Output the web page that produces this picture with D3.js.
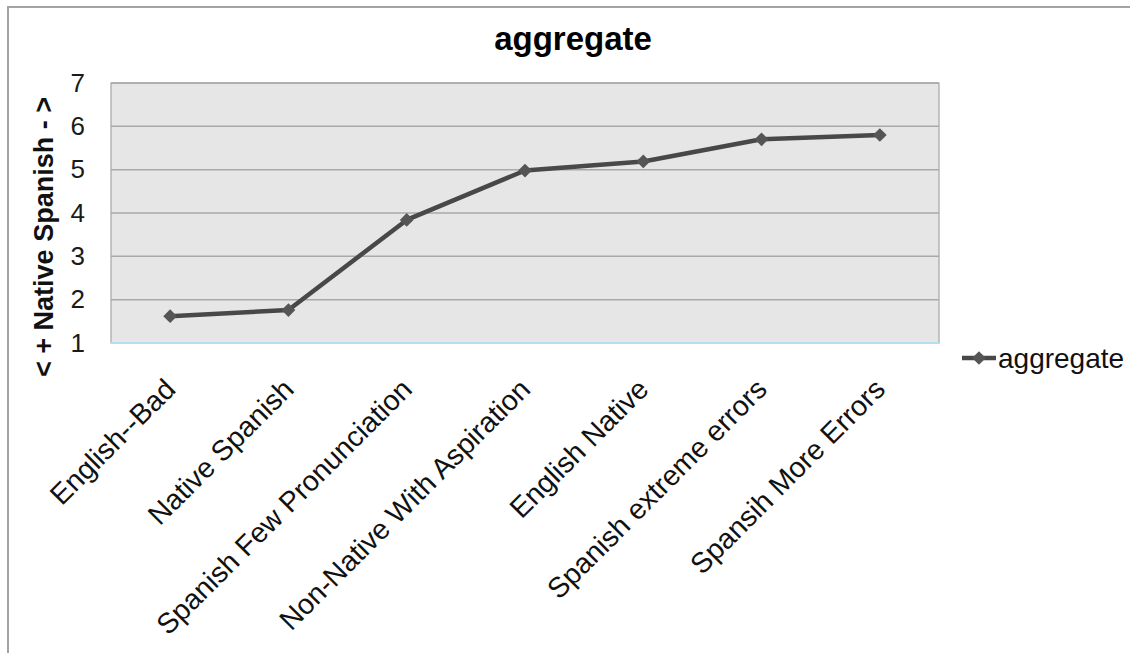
<!DOCTYPE html>
<html>
<head>
<meta charset="utf-8">
<script src="https://cdn.jsdelivr.net/npm/d3@7"></script>
<style>
  html, body { margin: 0; padding: 0; background: #ffffff; }
  svg { display: block; font-family: "Liberation Sans", Arial, sans-serif; }
</style>
</head>
<body>
<svg id="chart" width="1130" height="653"></svg>
<script>
// Aggregate rating per speech sample
const categories = [
  "English--Bad",
  "Native Spanish",
  "Spanish Few Pronunciation",
  "Non-Native With Aspiration",
  "English Native",
  "Spanish extreme errors",
  "Spansih More Errors"
];
const aggregate = [1.62, 1.76, 3.84, 4.98, 5.19, 5.70, 5.80];
const yTicks = [1, 2, 3, 4, 5, 6, 7];
const seriesName = "aggregate";
const chartTitle = "aggregate";
const yTitle = "< + Native Spanish - >";

const svg = d3.select("#chart");
const W = 1130, H = 653;
const plot = { left: 111, right: 939, top: 83, bottom: 343 };

// outer frame (left and top edges visible)
svg.append("path")
  .attr("d", `M8,${H} L8,7 L${W},7`)
  .attr("fill", "none")
  .attr("stroke", "#a3a3a3")
  .attr("stroke-width", 2);

const x = d3.scaleBand().domain(categories).range([plot.left, plot.right]);
const y = d3.scaleLinear().domain([1, 7]).range([plot.bottom, plot.top]);
const cx = d => x(d) + x.bandwidth() / 2;

// plot background
svg.append("rect")
  .attr("x", plot.left).attr("y", plot.top)
  .attr("width", plot.right - plot.left)
  .attr("height", plot.bottom - plot.top)
  .attr("fill", "#e6e6e6")
  .attr("stroke", "#a6a6a6")
  .attr("stroke-width", 1.2);

// horizontal gridlines
svg.append("g")
  .selectAll("line")
  .data(yTicks.filter(t => t > 1))
  .join("line")
  .attr("x1", plot.left).attr("x2", plot.right)
  .attr("y1", d => y(d)).attr("y2", d => y(d))
  .attr("stroke", "#a9a9a9")
  .attr("stroke-width", 1.5);

// category axis baseline
svg.append("line")
  .attr("x1", plot.left).attr("x2", plot.right)
  .attr("y1", plot.bottom).attr("y2", plot.bottom)
  .attr("stroke", "#b3dff0")
  .attr("stroke-width", 2);

// value axis labels
const yAxis = d3.axisLeft(y).tickValues(yTicks).tickSize(0).tickPadding(0)
  .tickFormat(d3.format("d"));
const yg = svg.append("g")
  .attr("transform", `translate(${plot.left - 26},0)`)
  .call(yAxis);
yg.select(".domain").remove();
yg.selectAll("text")
  .attr("font-family", "Liberation Sans, Arial, sans-serif")
  .attr("font-size", 26)
  .attr("fill", "#1a1a1a");

// category labels, rotated
const xAxis = d3.axisBottom(x).tickSize(0).tickPadding(0);
const xg = svg.append("g")
  .attr("transform", `translate(0,${plot.bottom})`)
  .call(xAxis);
xg.select(".domain").remove();
xg.selectAll(".tick text")
  .attr("font-family", "Liberation Sans, Arial, sans-serif")
  .attr("font-size", 28.5)
  .attr("fill", "#111")
  .attr("text-anchor", "end")
  .attr("dy", 0)
  .attr("y", 0)
  .attr("transform", "translate(7,48) rotate(-45)");

// series line
const line = d3.line()
  .x((d, i) => cx(categories[i]))
  .y(d => y(d));
svg.append("path")
  .datum(aggregate)
  .attr("d", line)
  .attr("fill", "none")
  .attr("stroke", "#484848")
  .attr("stroke-width", 4.5)
  .attr("stroke-linejoin", "round");

// diamond markers
const diamond = d3.symbol().type(d3.symbolDiamond2).size(120);
svg.append("g")
  .selectAll("path")
  .data(aggregate)
  .join("path")
  .attr("d", diamond)
  .attr("transform", (d, i) => `translate(${cx(categories[i])},${y(d)})`)
  .attr("fill", "#555555");

// title
svg.append("text")
  .attr("x", 573).attr("y", 50)
  .attr("text-anchor", "middle")
  .attr("font-size", 33)
  .attr("font-weight", "bold")
  .attr("fill", "#000")
  .text(chartTitle);

// value axis title
svg.append("text")
  .attr("transform", "translate(53,237) rotate(-90)")
  .attr("text-anchor", "middle")
  .attr("font-size", 27)
  .attr("font-weight", "bold")
  .attr("fill", "#111")
  .text(yTitle);

// legend
const lg = svg.append("g").attr("transform", "translate(962,358)");
lg.append("line")
  .attr("x1", 0).attr("x2", 34).attr("y1", 0).attr("y2", 0)
  .attr("stroke", "#484848").attr("stroke-width", 4.5);
lg.append("path")
  .attr("d", diamond)
  .attr("transform", "translate(17,0)")
  .attr("fill", "#555555");
lg.append("text")
  .attr("x", 36).attr("y", 10)
  .attr("font-size", 28)
  .attr("fill", "#111")
  .text(seriesName);
</script>
</body>
</html>
